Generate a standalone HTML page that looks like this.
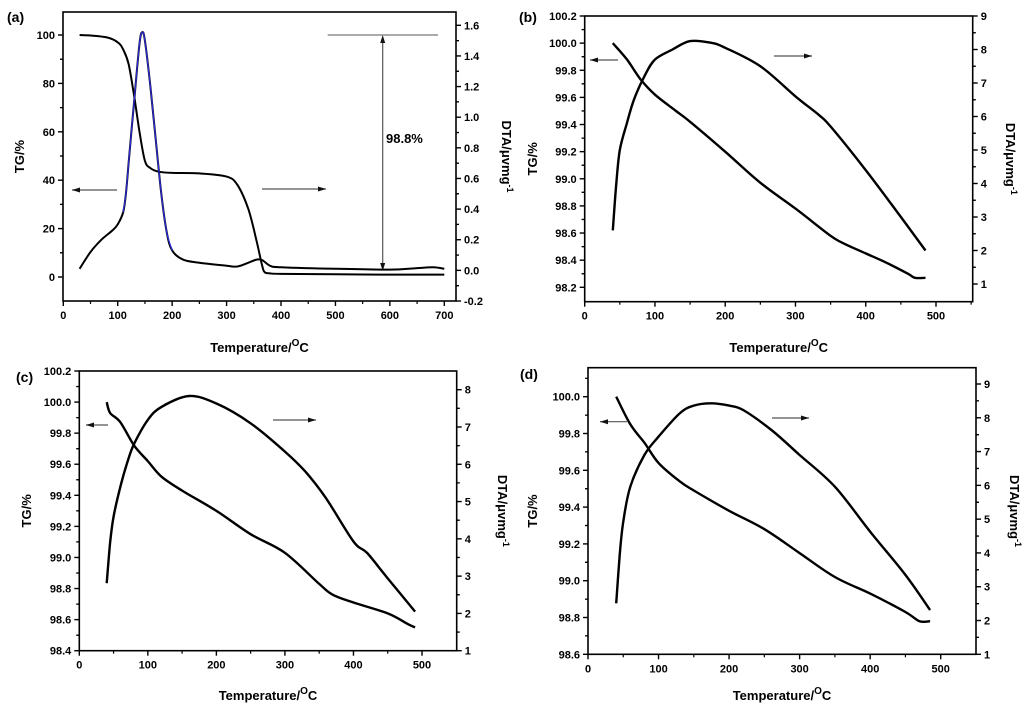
<!DOCTYPE html>
<html><head><meta charset="utf-8"><style>
html,body{margin:0;padding:0;background:#fff;}
svg{display:block;font-family:"Liberation Sans",Arial,sans-serif;font-weight:bold;}
</style></head><body>
<svg id="chart" width="1024" height="715" viewBox="0 0 1024 715"></svg>
<script>
// ---- Data ----
const aTgX=[30,50,80,100,110,120,130,140,150,160,175,200,250,300,320,340,355,365,370,380,400,500,600,700];
const aTgY=[100,99.8,99,97,94,88,75,60,48,45,43.5,43,42.8,41.5,38,28,15,5,2,1.5,1.3,1.1,1.0,1.0];
const aDtaX=[30,50,70,90,100,110,115,120,130,140,145,150,160,170,180,190,200,220,250,300,320,340,355,365,380,400,500,600,650,680,700];
const aDtaY=[0.01,0.12,0.2,0.26,0.3,0.38,0.5,0.7,1.1,1.48,1.555,1.5,1.2,0.85,0.5,0.25,0.13,0.07,0.05,0.03,0.025,0.05,0.07,0.068,0.03,0.02,0.01,0.005,0.015,0.02,0.01];

const bTgX=[40,60,80,100,130,150,200,250,300,350,370,400,430,460,470,485];
const bTgY=[100.0,99.88,99.73,99.62,99.5,99.42,99.2,98.97,98.78,98.58,98.52,98.45,98.38,98.3,98.27,98.27];
const bDtaX=[40,45,50,60,70,85,100,125,150,180,200,250,300,333,350,400,450,485];
const bDtaY=[2.6,4,5,5.8,6.5,7.2,7.7,8.0,8.25,8.2,8.05,7.5,6.6,6.05,5.7,4.4,3.0,2.0];

const cTgX=[40,45,60,80,100,120,150,200,250,300,350,370,400,450,480,490];
const cTgY=[100.0,99.93,99.87,99.72,99.62,99.52,99.43,99.3,99.15,99.03,98.83,98.76,98.71,98.64,98.57,98.55];
const cDtaX=[40,45,50,60,70,80,100,120,160,200,250,300,330,360,400,420,450,490];
const cDtaY=[2.81,3.9,4.6,5.4,6.05,6.55,7.19,7.54,7.83,7.63,7.1,6.34,5.8,5.09,3.93,3.62,2.94,2.05];

const dTgX=[40,60,80,100,130,150,200,250,300,350,400,450,470,485];
const dTgY=[100.0,99.85,99.75,99.64,99.54,99.49,99.38,99.28,99.15,99.02,98.93,98.83,98.78,98.78];
const dDtaX=[40,45,50,60,80,100,130,150,175,200,220,260,300,350,400,450,485];
const dDtaY=[2.51,3.94,4.93,5.96,6.9,7.44,8.13,8.36,8.43,8.36,8.23,7.64,6.9,5.96,4.63,3.35,2.31];

const aXTicks=[0,100,200,300,400,500,600,700];
const aLTicks=[0,20,40,60,80,100];
const aRTicks=[-0.2,0,0.2,0.4,0.6,0.8,1.0,1.2,1.4,1.6];
const bXTicks=[0,100,200,300,400,500];
const bLTicks=[98.2,98.4,98.6,98.8,99.0,99.2,99.4,99.6,99.8,100.0,100.2];
const bRTicks=[1,2,3,4,5,6,7,8,9];
const cLTicks=[98.4,98.6,98.8,99.0,99.2,99.4,99.6,99.8,100.0,100.2];
const cRTicks=[1,2,3,4,5,6,7,8];
const dLTicks=[98.6,98.8,99.0,99.2,99.4,99.6,99.8,100.0];
const dRTicks=[1,2,3,4,5,6,7,8,9];

const NS="http://www.w3.org/2000/svg";
const svg=document.getElementById('chart');
function mk(tag,attrs,parent){const e=document.createElementNS(NS,tag);for(const k in attrs)e.setAttribute(k,attrs[k]);(parent||svg).appendChild(e);return e;}
function lin(d0,d1,r0,r1){return v=>r0+(v-d0)*(r1-r0)/(d1-d0);}
function smoothPath(xs,ys,sx,sy){
  const p=xs.map((x,i)=>[sx(x),sy(ys[i])]);
  let d='M'+p[0][0].toFixed(1)+','+p[0][1].toFixed(1);
  for(let i=0;i<p.length-1;i++){
    const p0=p[Math.max(0,i-1)],p1=p[i],p2=p[i+1],p3=p[Math.min(p.length-1,i+2)];
    const c1=[p1[0]+(p2[0]-p0[0])/6,p1[1]+(p2[1]-p0[1])/6];
    const c2=[p2[0]-(p3[0]-p1[0])/6,p2[1]-(p3[1]-p1[1])/6];
    d+=' C'+c1[0].toFixed(1)+','+c1[1].toFixed(1)+' '+c2[0].toFixed(1)+','+c2[1].toFixed(1)+' '+p2[0].toFixed(1)+','+p2[1].toFixed(1);
  }
  return d;
}
function fmt(v,dec){return v.toFixed(dec);}
function arrow(g,x1,x2,y){
  const l=mk('line',{x1:x1,y1:y,x2:x2,y2:y,stroke:'#555','stroke-width':1.2},g);
  
  
  const dir=x2>x1?1:-1;
  const h=mk('polygon',{points:`${x2},${y} ${x2-dir*8},${y-2.5} ${x2-dir*8},${y+2.5}`,fill:'#111'},g);
  
  
}

function panel(cfg){
  const g=mk('g',{});
  
  
  const sx=lin(0,cfg.xRef,cfg.x0,cfg.xRefPx);
  const sl=lin(cfg.lA,cfg.lB,cfg.lApx,cfg.lBpx);
  const sr=lin(cfg.rA,cfg.rB,cfg.rApx,cfg.rBpx);
  const L=cfg.fl,R=cfg.fr,T=cfg.ft,B=cfg.fb;
  const fr=mk('rect',{x:L,y:T,width:R-L,height:B-T,fill:'none',stroke:'#000','stroke-width':1.6},g);
  
  
  cfg.xTicks.forEach(v=>{
    const x=sx(v);
    mk('line',{x1:x,y1:B,x2:x,y2:B+5,stroke:'#000','stroke-width':1.4},g);
    const t=mk('text',{x:x,y:B+18,'text-anchor':'middle','font-size':11},g);t.textContent=v;
    
    
    const xm=sx(v+cfg.xStep/2);if(xm<R-1)mk('line',{x1:xm,y1:B,x2:xm,y2:B+3,stroke:'#000','stroke-width':1.2},g);
  });
  cfg.lTicks.forEach(v=>{
    const y=sl(v);
    mk('line',{x1:L,y1:y,x2:L-5,y2:y,stroke:'#000','stroke-width':1.4},g);
    const t=mk('text',{x:L-8,y:y+4,'text-anchor':'end','font-size':11},g);t.textContent=fmt(v,cfg.lDec);
    
    
    [v+cfg.lStep/2,v-cfg.lStep/2].forEach(m=>{const ym=sl(m);if(ym>T+1&&ym<B-1)mk('line',{x1:L,y1:ym,x2:L-3,y2:ym,stroke:'#000','stroke-width':1.2},g);});
  });
  cfg.rTicks.forEach(v=>{
    const y=sr(v);
    mk('line',{x1:R,y1:y,x2:R+5,y2:y,stroke:'#000','stroke-width':1.4},g);
    const t=mk('text',{x:R+8,y:y+4,'text-anchor':'start','font-size':11},g);t.textContent=fmt(v,cfg.rDec);
    
    
    [v+cfg.rStep/2,v-cfg.rStep/2].forEach(m=>{const ym=sr(m);if(ym>T+1&&ym<B-1)mk('line',{x1:R,y1:ym,x2:R+3,y2:ym,stroke:'#000','stroke-width':1.2},g);});
  });
  const xt=mk('text',{x:(L+R)/2,y:cfg.xTitleY,'text-anchor':'middle','font-size':13},g);
  xt.innerHTML='Temperature/<tspan dy="-6" font-size="10">O</tspan><tspan dy="6">C</tspan>';
  
  
  const lt=mk('text',{x:0,y:0,'text-anchor':'middle','font-size':13,transform:`translate(${cfg.lTitleX},${(T+B)/2}) rotate(-90)`},g);
  lt.textContent='TG/%';
  
  
  const rt=mk('text',{x:0,y:0,'text-anchor':'middle','font-size':13,transform:`translate(${cfg.rTitleX},${(T+B)/2}) rotate(90)`},g);
  rt.innerHTML='DTA/μvmg<tspan dy="-5" font-size="9">-1</tspan>';
  
  
  const pl=mk('text',{x:cfg.labX,y:cfg.labY,'font-size':14},g);
  pl.textContent='('+cfg.id+')';
  
  
  const tg=mk('path',{d:smoothPath(cfg.tgX,cfg.tgY,sx,sl),fill:'none',stroke:'#000','stroke-width':cfg.sw},g);
  
  
  const dt=mk('path',{d:smoothPath(cfg.dtaX,cfg.dtaY,sx,sr),fill:'none',stroke:'#000','stroke-width':cfg.sw},g);
  
  
  arrow(g,cfg.la[0],cfg.la[1],cfg.la[2]);
  arrow(g,cfg.ra[0],cfg.ra[1],cfg.ra[2]);
  return {g,sx,sl,sr};
}

const pa=panel({id:'a',x0:63.3,xRef:700,xRefPx:444.3,fl:63,fr:456,ft:12,fb:301,
  lA:0,lB:100,lApx:277,lBpx:35,rA:-0.2,rB:1.6,rApx:301,rBpx:25.3,
  xTicks:aXTicks,xStep:100,lTicks:aLTicks,lStep:20,lDec:0,rTicks:aRTicks,rStep:0.2,rDec:1,
  tgX:aTgX,tgY:aTgY,dtaX:aDtaX,dtaY:aDtaY,sw:2,
  xTitleY:352,lTitleX:24,rTitleX:502,labX:7,labY:22,la:[117,72,190],ra:[262,326,189]});
(function(){
  const i0=aDtaX.indexOf(110),i1=aDtaX.indexOf(200);
  const b=mk('path',{d:smoothPath(aDtaX.slice(i0,i1+1),aDtaY.slice(i0,i1+1),pa.sx,pa.sr),fill:'none',stroke:'#2a2ad0','stroke-width':1.3},pa.g);
  
  
  const h=mk('line',{x1:327.7,y1:35,x2:438,y2:35,stroke:'#777','stroke-width':1.2},pa.g);
  
  
  const v=mk('line',{x1:382.7,y1:40,x2:382.7,y2:266,stroke:'#555','stroke-width':1.2},pa.g);
  
  
  mk('polygon',{points:'382.7,35 380.2,43 385.2,43',fill:'#111'},pa.g);
  mk('polygon',{points:'382.7,271 380.2,263 385.2,263',fill:'#111'},pa.g);
  const t=mk('text',{x:386,y:143,'font-size':13},pa.g);t.textContent='98.8%';
  
  
})();

panel({id:'b',x0:584.7,xRef:500,xRefPx:936,fl:584.7,fr:972.7,ft:16,fb:301.7,
  lA:98.2,lB:100.2,lApx:287.3,lBpx:16,rA:1,rB:9,rApx:284,rBpx:16,
  xTicks:bXTicks,xStep:100,lTicks:bLTicks,lStep:0.2,lDec:1,rTicks:bRTicks,rStep:1,rDec:0,
  tgX:bTgX,tgY:bTgY,dtaX:bDtaX,dtaY:bDtaY,sw:2.4,
  xTitleY:352,lTitleX:537,rTitleX:1006,labX:519,labY:22,la:[618,590,60],ra:[774,812,56]});

panel({id:'c',x0:79.3,xRef:500,xRefPx:422,fl:79.3,fr:456.7,ft:371,fb:650.7,
  lA:98.4,lB:100.2,lApx:650.7,lBpx:371,rA:1,rB:8,rApx:650.7,rBpx:389.7,
  xTicks:bXTicks,xStep:100,lTicks:cLTicks,lStep:0.2,lDec:1,rTicks:cRTicks,rStep:1,rDec:0,
  tgX:cTgX,tgY:cTgY,dtaX:cDtaX,dtaY:cDtaY,sw:2.4,
  xTitleY:700,lTitleX:31,rTitleX:498,labX:16,labY:382,la:[108,86,425],ra:[273,316,420]});

panel({id:'d',x0:588,xRef:500,xRefPx:940.7,fl:588,fr:976,ft:367.7,fb:654.3,
  lA:98.6,lB:100.0,lApx:654.3,lBpx:396.7,rA:1,rB:9,rApx:654.3,rBpx:384,
  xTicks:bXTicks,xStep:100,lTicks:dLTicks,lStep:0.2,lDec:1,rTicks:dRTicks,rStep:1,rDec:0,
  tgX:dTgX,tgY:dTgY,dtaX:dDtaX,dtaY:dDtaY,sw:2.4,
  xTitleY:700,lTitleX:537,rTitleX:1010,labX:520,labY:379,la:[627,600,421.7],ra:[772,809,418]});
</script>
</body></html>
